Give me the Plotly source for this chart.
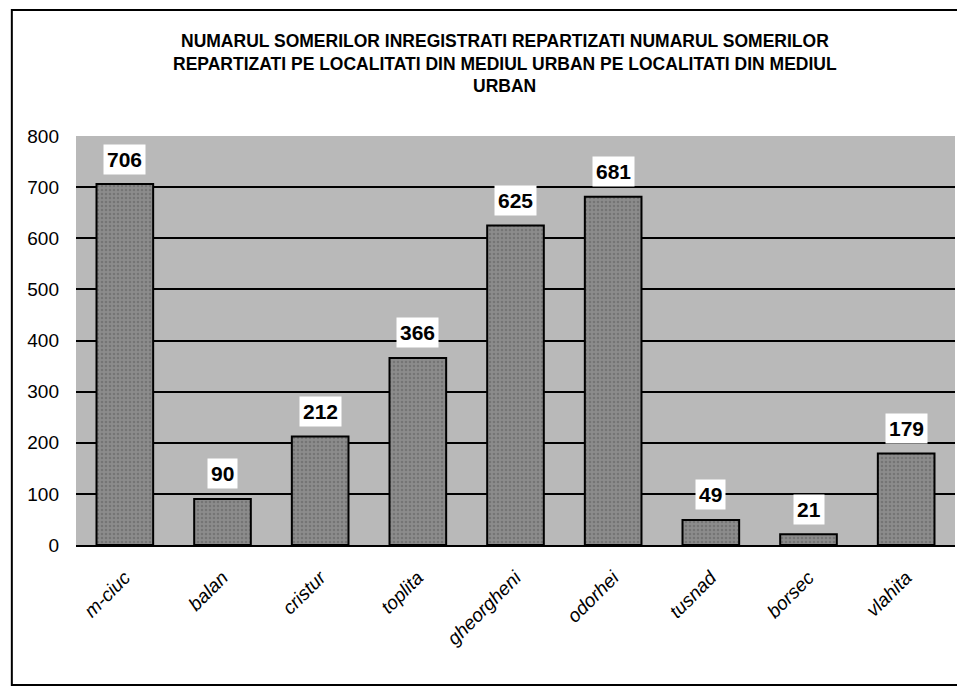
import plotly.graph_objects as go

categories = ["m-ciuc", "balan", "cristur", "toplita", "gheorgheni", "odorhei", "tusnad", "borsec", "vlahita"]
values = [706, 90, 212, 366, 625, 681, 49, 21, 179]
y_ticks = [0, 100, 200, 300, 400, 500, 600, 700, 800]
title_lines = [
    "NUMARUL SOMERILOR INREGISTRATI REPARTIZATI NUMARUL SOMERILOR",
    "REPARTIZATI PE LOCALITATI DIN MEDIUL URBAN PE LOCALITATI DIN MEDIUL",
    "URBAN",
]

fig = go.Figure()
fig.add_trace(go.Bar(
    x=categories, y=values,
    marker=dict(color="#808080", line=dict(color="black", width=2),
                pattern=dict(shape=".", fgcolor="#5e5e5e", bgcolor="#8c8c8c", size=4, solidity=0.35)),
    width=0.58,
    hoverinfo="skip",
))

for c, v in zip(categories, values):
    fig.add_annotation(x=c, y=v, text=f"<b>{v}</b>", showarrow=False,
                       yshift=25, bgcolor="white", borderpad=3,
                       font=dict(family="Liberation Sans, Arial", size=21, color="black"))

# title lines
for i, line in enumerate(title_lines):
    fig.add_annotation(xref="paper", yref="paper", x=0.488, y=1.232 - i * 0.055,
                       xanchor="center", yanchor="middle", showarrow=False,
                       text=f"<b>{line}</b>",
                       font=dict(family="Liberation Sans, Arial", size=17.5, color="black"))

# outer frame
fig.add_shape(type="rect", xref="paper", yref="paper",
              x0=-0.073, x1=1.05, y0=-0.342, y1=1.308,
              line=dict(color="black", width=2), fillcolor="rgba(0,0,0,0)", layer="below")

fig.update_layout(
    width=965, height=688,
    margin=dict(l=68, r=18, t=128, b=151),
    paper_bgcolor="white",
    plot_bgcolor="#b9b9b9",
    showlegend=False,
    xaxis=dict(tickangle=-45, showgrid=False, showline=True, linecolor="black", linewidth=2,
               tickfont=dict(family="Liberation Sans, Arial", size=19, color="black", style="italic"),
               ticks="", ticklabelstandoff=12, mirror=False),
    yaxis=dict(range=[0, 800], tickvals=y_ticks, showgrid=True, gridcolor="black", gridwidth=1.5,
               zeroline=False, showline=False, ticks="",
               ticklabelstandoff=16,
               tickfont=dict(family="Liberation Sans, Arial", size=19, color="black")),
)

fig.write_html("out.html")
